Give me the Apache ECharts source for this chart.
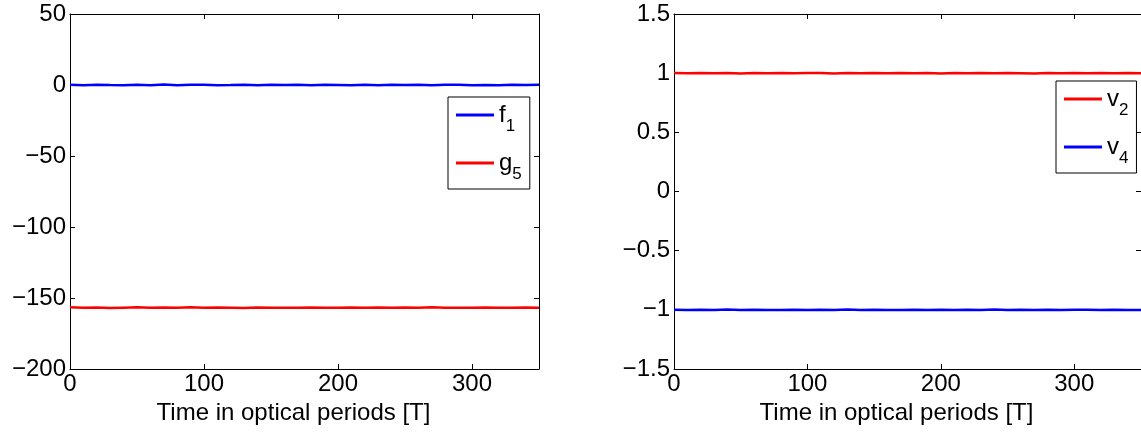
<!DOCTYPE html>
<html>
<head>
<meta charset="utf-8">
<script src="https://cdn.jsdelivr.net/npm/echarts@6/dist/echarts.min.js"></script>
<style>
  html, body { margin: 0; padding: 0; background: #fff; }
  #main { width: 1141px; height: 433px; }
</style>
</head>
<body>
<div id="main"></div>
<script>
// time axis, T
const time = [0, 10, 20, 30, 40, 50, 60, 70, 80, 90, 100, 110, 120, 130, 140, 150, 160, 170,
  180, 190, 200, 210, 220, 230, 240, 250, 260, 270, 280, 290, 300, 310, 320, 330, 340, 350]

// left panel
const f1 = [0.1, -0.2, 0.2, 0.0, -0.1, 0.2, -0.1, 0.3, -0.2, 0.1, 0.2, -0.1, 0.0, 0.2, -0.2, 0.1,
  0.0, 0.2, -0.2, 0.1, 0.0, -0.2, 0.2, -0.1, 0.1, 0.0, 0.2, -0.1, 0.1, 0.2, -0.2, 0.0, -0.1, 0.1, 0.0, 0.1]
const g5 = [-156.6, -156.9, -156.7, -157.0, -156.8, -156.6, -156.9, -156.7, -156.8, -156.6, -156.9,
  -156.7, -156.8, -157.0, -156.7, -156.9, -156.8, -156.9, -156.7, -156.8, -156.9, -156.7, -156.8,
  -156.7, -156.9, -156.7, -156.8, -156.6, -156.9, -156.8, -156.9, -156.7, -156.9, -156.8, -156.7, -156.8]

// right panel
const v2 = [1.002, 0.999, 1.002, 0.999, 1.002, 0.998, 1.001, 1.000, 1.002, 0.999, 1.001, 1.002,
  0.998, 1.001, 0.999, 1.002, 0.999, 1.001, 1.000, 1.001, 0.998, 1.002, 0.999, 1.001, 0.999, 1.002,
  1.000, 0.998, 1.002, 0.999, 1.001, 0.999, 1.002, 1.000, 1.001, 0.999]
const v4 = [-0.999, -1.002, -1.000, -1.002, -0.998, -1.001, -0.999, -1.002, -1.001, -0.999, -1.002,
  -1.000, -1.001, -0.998, -1.002, -0.999, -1.001, -1.002, -0.999, -1.001, -1.000, -1.002, -0.999,
  -1.001, -0.998, -1.002, -1.000, -1.001, -0.999, -1.002, -1.000, -0.999, -1.002, -0.999, -1.001, -1.001]

const leftTicks = { min: -200, max: 50, interval: 50 }
const rightTicks = { min: -1.5, max: 1.5, interval: 0.5 }
const timeTicks = { min: 0, max: 350, interval: 100 }

const FONT = '"Liberation Sans", Arial, Helvetica, sans-serif'

const pair = (a, b) => a.map((v, i) => [v, b[i]])
const minus = v => String(v).replace('-', '\u2212')

const lineAxis = { onZero: false, lineStyle: { color: '#000', width: 1 } }
const tick = { inside: true, length: 5, lineStyle: { color: '#000', width: 1 } }

const xBottom = (grid) => ({
  type: 'value', gridIndex: grid, position: 'bottom', ...timeTicks,
  axisLine: lineAxis, axisTick: tick, splitLine: { show: false },
  axisLabel: { fontSize: 24, fontFamily: FONT, color: '#000', margin: 3, showMaxLabel: false },
  name: 'Time in optical periods [T]', nameLocation: 'middle', nameGap: 29,
  nameTextStyle: { fontSize: 24, fontFamily: FONT, color: '#000', padding: [0, 22, 0, 0] }
})
const xTop = (grid) => ({
  type: 'value', gridIndex: grid, position: 'top', ...timeTicks,
  axisLine: lineAxis, axisTick: tick, splitLine: { show: false }, axisLabel: { show: false }
})
const yLeft = (grid, t) => ({
  type: 'value', gridIndex: grid, position: 'left', ...t,
  axisLine: lineAxis, axisTick: tick, splitLine: { show: false },
  axisLabel: { fontSize: 24, fontFamily: FONT, color: '#000', margin: 4, formatter: minus }
})
const yRight = (grid, t) => ({
  type: 'value', gridIndex: grid, position: 'right', ...t,
  axisLine: lineAxis, axisTick: tick, splitLine: { show: false }, axisLabel: { show: false }
})

const legendText = {
  fontFamily: FONT, color: '#000',
  rich: {
    m: { fontSize: 24, fontFamily: FONT, lineHeight: 24, verticalAlign: 'top' },
    s: { fontSize: 17, fontFamily: FONT, lineHeight: 17, padding: [15, 0, 0, 0], verticalAlign: 'top' }
  }
}
const legendBox = (left, top, names) => ({
  data: names, orient: 'vertical', left, top,
  icon: 'rect', itemWidth: 38, itemHeight: 3, itemGap: 16,
  padding: [6, 8, 6, 8], borderColor: '#000', borderWidth: 1, backgroundColor: '#fff',
  selectedMode: false,
  formatter: n => '{m|' + n[0] + '}{s|' + n.slice(1) + '}',
  textStyle: legendText
})

const line = (name, color, x, y, data) => ({
  name, type: 'line', xAxisIndex: x, yAxisIndex: y, data, showSymbol: false,
  symbol: 'none', animation: false, itemStyle: { color },
  lineStyle: { color, width: 2.5 }
})

const main = echarts.init(document.getElementById('main'))
main.setOption({
  backgroundColor: '#fff',
  animation: false,
  grid: [
    { left: 70, top: 14, width: 469, height: 355 },
    { left: 674, top: 14, width: 469, height: 355 }
  ],
  xAxis: [xBottom(0), xTop(0), xBottom(1), xTop(1)],
  yAxis: [yLeft(0, leftTicks), yRight(0, leftTicks), yLeft(1, rightTicks), yRight(1, rightTicks)],
  legend: [
    legendBox(448, 97, ['f1', 'g5']),
    legendBox(1056, 81, ['v2', 'v4'])
  ],
  series: [
    line('f1', '#0000ff', 0, 0, pair(time, f1)),
    line('g5', '#ff0000', 0, 0, pair(time, g5)),
    line('v2', '#ff0000', 2, 2, pair(time, v2)),
    line('v4', '#0000ff', 2, 2, pair(time, v4))
  ]
})
</script>
</body>
</html>
